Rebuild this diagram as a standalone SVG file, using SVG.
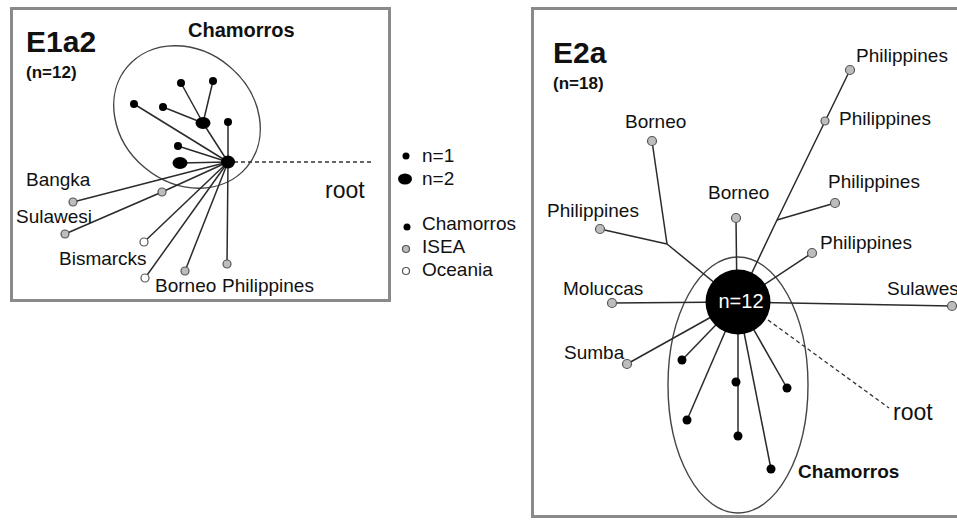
<svg xmlns="http://www.w3.org/2000/svg" width="957" height="520" viewBox="0 0 957 520">
<style>
.frame{fill:none;stroke:#8a8a8a;stroke-width:3}
.ln{stroke:#2a2a2a;stroke-width:1.5;fill:none}
.dash{stroke:#333;stroke-width:1.3;fill:none;stroke-dasharray:4 3}
.ell{fill:none;stroke:#444;stroke-width:1.4}
.blk{fill:#000}
.gry{fill:#bdbdbd;stroke:#555;stroke-width:1.2}
.wht{fill:#fff;stroke:#555;stroke-width:1.2}
text{font-family:"Liberation Sans",Arial,sans-serif;fill:#111}
.lbl{font-size:19px}
.bold{font-weight:bold}
.title{font-size:30px;font-weight:bold}
.sub{font-size:17px;font-weight:bold}
.root{font-size:23px}
</style>
<rect width="957" height="520" fill="#fff"/>

<!-- Left panel -->
<g id="panel-E1a2">
<rect class="frame" x="11.5" y="8.5" width="378" height="292"/>
<text class="title" x="26" y="52">E1a2</text>
<text class="sub" x="26" y="78">(n=12)</text>
<text class="lbl bold" x="188" y="37" style="font-size:20px">Chamorros</text>
<ellipse class="ell" cx="187" cy="117" rx="78" ry="66" transform="rotate(40 187 117)"/>
</g>

<g id="connectors-left">
<line class="ln" x1="228" y1="162" x2="134" y2="104"/>
<line class="ln" x1="228" y1="162" x2="203" y2="123"/>
<line class="ln" x1="203" y1="123" x2="163" y2="107"/>
<line class="ln" x1="203" y1="123" x2="181" y2="83"/>
<line class="ln" x1="203" y1="123" x2="213" y2="81"/>
<line class="ln" x1="228" y1="162" x2="228" y2="122"/>
<line class="ln" x1="228" y1="162" x2="178" y2="146"/>
<line class="ln" x1="228" y1="162" x2="180" y2="163"/>
<line class="ln" x1="228" y1="162" x2="73" y2="202"/>
<polyline class="ln" points="228,162 162,192 65,234"/>
<line class="ln" x1="228" y1="162" x2="144" y2="242"/>
<line class="ln" x1="228" y1="162" x2="145" y2="278"/>
<line class="ln" x1="228" y1="162" x2="185" y2="271"/>
<line class="ln" x1="228" y1="162" x2="227" y2="264"/>
<line class="dash" x1="234" y1="162" x2="374" y2="162"/>
</g>

<g id="left-nodes">
<g id="L-hub"><ellipse class="blk" cx="228" cy="162" rx="7" ry="6.5"/></g>
<g id="L-c1"><circle class="blk" cx="134" cy="104" r="4"/></g>
<g id="L-c2"><circle class="blk" cx="163" cy="107" r="4"/></g>
<g id="L-c3"><circle class="blk" cx="181" cy="83" r="4"/></g>
<g id="L-c4"><circle class="blk" cx="213" cy="81" r="4"/></g>
<g id="L-c5"><ellipse class="blk" cx="203" cy="123" rx="7.5" ry="6"/></g>
<g id="L-c6"><circle class="blk" cx="228" cy="122" r="4"/></g>
<g id="L-c7"><circle class="blk" cx="178" cy="146" r="4"/></g>
<g id="L-c8"><ellipse class="blk" cx="180" cy="163" rx="7.5" ry="6"/></g>
<g id="L-bangka"><circle class="gry" cx="73" cy="202" r="4"/><text class="lbl" x="26" y="186">Bangka</text></g>
<g id="L-isea"><circle class="gry" cx="162" cy="192" r="4"/></g>
<g id="L-sulawesi"><circle class="gry" cx="65" cy="234" r="4"/><text class="lbl" x="16" y="223">Sulawesi</text></g>
<g id="L-bismarcks1"><circle class="wht" cx="144" cy="242" r="4"/><text class="lbl" x="59" y="265">Bismarcks</text></g>
<g id="L-bismarcks2"><circle class="wht" cx="145" cy="278" r="4"/></g>
<g id="L-borneo"><circle class="gry" cx="185" cy="271" r="4"/><text class="lbl" x="155" y="292">Borneo</text></g>
<g id="L-philippines"><circle class="gry" cx="227" cy="264" r="4"/><text class="lbl" x="222" y="292">Philippines</text></g>
<g id="L-root"><text class="root" x="325" y="198">root</text></g>
</g>

<!-- Legend -->
<g id="legend">
<circle class="blk" cx="406" cy="156" r="3.5"/><text class="lbl" x="422" y="162">n=1</text>
<ellipse class="blk" cx="405" cy="179" rx="7" ry="5.5"/><text class="lbl" x="422" y="185">n=2</text>
<circle class="blk" cx="407" cy="227" r="3.5"/><text class="lbl" x="422" y="230">Chamorros</text>
<circle class="gry" cx="406" cy="249" r="3.5"/><text class="lbl" x="422" y="253">ISEA</text>
<circle class="wht" cx="406" cy="271" r="3.5"/><text class="lbl" x="422" y="276">Oceania</text>
</g>

<!-- Right panel -->
<g id="panel-E2a">
<rect class="frame" x="532.5" y="8.5" width="440" height="508"/>
<text class="title" x="553" y="63">E2a</text>
<text class="sub" x="553" y="89">(n=18)</text>
<ellipse class="ell" cx="738" cy="385" rx="70" ry="128"/>
<text class="lbl bold" x="798" y="478">Chamorros</text>
</g>

<g id="connectors-right">
<line class="ln" x1="652" y1="141" x2="667" y2="244"/>
<line class="ln" x1="600" y1="229" x2="667" y2="244"/>
<line class="ln" x1="667" y1="244" x2="738" y2="302"/>
<polyline class="ln" points="850,70 777,220 738,302"/>
<line class="ln" x1="777" y1="220" x2="835" y2="203"/>
<line class="ln" x1="736" y1="218" x2="737" y2="302"/>
<line class="ln" x1="812" y1="253" x2="738" y2="302"/>
<line class="ln" x1="612" y1="303" x2="738" y2="302"/>
<line class="ln" x1="738" y1="302" x2="952" y2="306"/>
<line class="ln" x1="627" y1="364" x2="738" y2="302"/>
<line class="ln" x1="738" y1="302" x2="682" y2="360"/>
<line class="ln" x1="738" y1="302" x2="738" y2="436"/>
<line class="ln" x1="738" y1="302" x2="787" y2="388"/>
<line class="ln" x1="738" y1="302" x2="687" y2="420"/>
<line class="ln" x1="738" y1="302" x2="771" y2="469"/>
<line class="dash" x1="768" y1="320" x2="889" y2="408"/>
</g>

<g id="right-nodes">
<g id="R-hub"><circle class="blk" cx="738" cy="302" r="32.5"/><text x="741" y="308" text-anchor="middle" style="font-size:20px;fill:#fff">n=12</text></g>
<g id="R-borneo1"><circle class="gry" cx="652" cy="141" r="4.5"/><text class="lbl" x="625" y="128">Borneo</text></g>
<g id="R-phil-left"><circle class="gry" cx="600" cy="229" r="4.5"/><text class="lbl" x="547" y="217">Philippines</text></g>
<g id="R-phil1"><circle class="gry" cx="850" cy="70" r="4.5"/><text class="lbl" x="856" y="62">Philippines</text></g>
<g id="R-phil2"><circle class="gry" cx="825" cy="121" r="4"/><text class="lbl" x="839" y="125">Philippines</text></g>
<g id="R-phil3"><circle class="gry" cx="835" cy="203" r="4.5"/><text class="lbl" x="828" y="188">Philippines</text></g>
<g id="R-borneo2"><circle class="gry" cx="736" cy="218" r="4.5"/><text class="lbl" x="708" y="199">Borneo</text></g>
<g id="R-phil4"><circle class="gry" cx="812" cy="253" r="4.5"/><text class="lbl" x="820" y="249">Philippines</text></g>
<g id="R-moluccas"><circle class="gry" cx="612" cy="303" r="4.5"/><text class="lbl" x="563" y="295">Moluccas</text></g>
<g id="R-sulawesi"><circle class="gry" cx="952" cy="306" r="4.5"/><text class="lbl" x="887" y="295">Sulawesi</text></g>
<g id="R-sumba"><circle class="gry" cx="627" cy="364" r="4.5"/><text class="lbl" x="564" y="359">Sumba</text></g>
<g id="R-c1"><circle class="blk" cx="682" cy="360" r="4.5"/></g>
<g id="R-c2"><circle class="blk" cx="736" cy="382" r="4.5"/></g>
<g id="R-c3"><circle class="blk" cx="787" cy="388" r="4.5"/></g>
<g id="R-c4"><circle class="blk" cx="687" cy="420" r="4.5"/></g>
<g id="R-c5"><circle class="blk" cx="738" cy="436" r="4.5"/></g>
<g id="R-c6"><circle class="blk" cx="771" cy="469" r="4.5"/></g>
<g id="R-root"><text class="root" x="893" y="420">root</text></g>
</g>
</svg>
